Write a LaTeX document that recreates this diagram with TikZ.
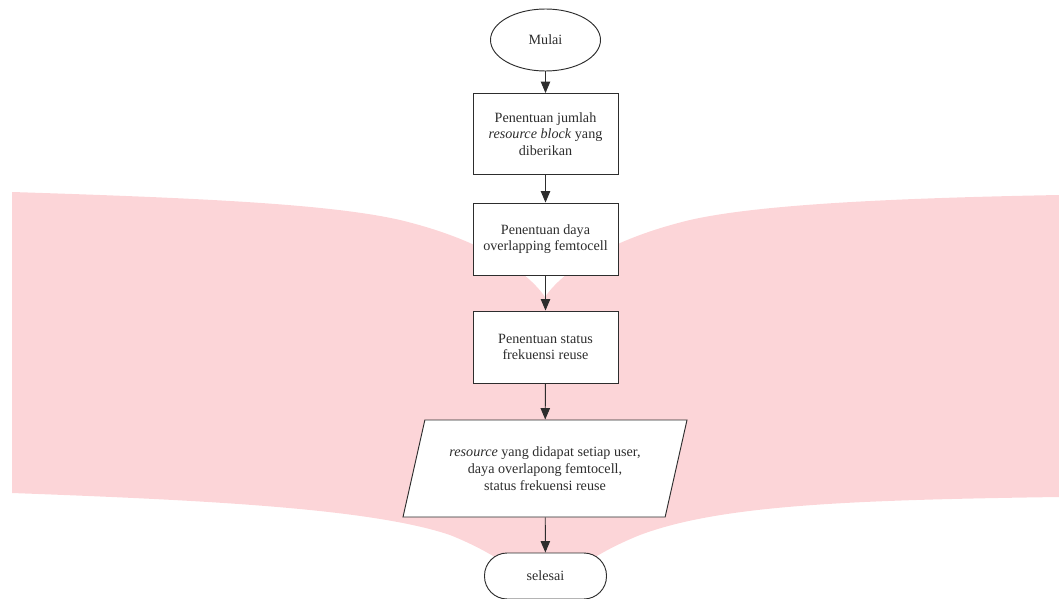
\documentclass[tikz,border=0pt]{standalone}
\usepackage{fontspec}
\setmainfont{Liberation Serif}
\usepackage{tikz}
\usetikzlibrary{arrows.meta,shapes.geometric}
\definecolor{wmpink}{RGB}{252,213,216}
\definecolor{ink}{RGB}{45,45,45}

\begin{document}
\begin{tikzpicture}[x=0.75pt,y=-0.75pt,line width=0.7pt,
	font=\fontsize{10.6}{12.5}\selectfont,
	prosesbox/.style={draw=ink,fill=white,text=ink,align=center,minimum width=108.75pt,minimum height=54pt,inner sep=1pt},
	mulaibox/.style={ellipse,draw=ink,fill=white,text=ink,minimum width=82.5pt,minimum height=46.5pt,inner sep=0pt},
	selesaibox/.style={draw=ink,fill=white,text=ink,rounded corners=17pt,minimum width=91.5pt,minimum height=34.5pt,inner sep=0pt},
	iobox/.style={trapezium,trapezium left angle=63.2,trapezium right angle=116.8,trapezium stretches body,draw=ink,fill=white,text=ink,align=center,minimum width=213pt,minimum height=72.75pt,inner sep=0pt},
	panah/.style={draw=ink,-{Triangle[length=8.5pt,width=7pt]}}]
	\useasboundingbox (0,0) rectangle (1059,599);
	% latar
	\fill[wmpink] (12,192) .. controls (200,198) and (330,204) .. (400,220)
		.. controls (475,238) and (525,268) .. (545,297)
		.. controls (565,268) and (615,238) .. (690,220)
		.. controls (760,204) and (900,198) .. (1059,195)
		-- (1059,497)
		.. controls (850,500) and (720,505) .. (640,535)
		.. controls (590,555) and (560,580) .. (545,599)
		.. controls (530,580) and (500,555) .. (450,535)
		.. controls (370,508) and (200,500) .. (12,493) -- cycle;

	\node[mulaibox] (mulai) at (545.5,40) {Mulai};
	\node[prosesbox,minimum height=60.75pt] (rb) at (545.5,134) {Penentuan jumlah\\\textit{resource block} yang\\diberikan};
	\node[prosesbox] (daya) at (545.5,239) {Penentuan daya\\overlapping femtocell};
	\node[prosesbox] (reuse) at (545.5,347) {Penentuan status\\frekuensi reuse};
	\node[iobox] (hasil) at (545,468.5) {\textit{resource} yang didapat setiap user,\\daya overlapong femtocell,\\status frekuensi reuse};
	\node[selesaibox] (selesai) at (545.5,576) {selesai};

	\draw[panah] (mulai) -- (rb);
	\draw[panah] (rb) -- (daya);
	\draw[panah] (daya) -- (reuse);
	\draw[panah] (reuse) -- (hasil);
	\draw[panah] (hasil) -- (selesai);
\end{tikzpicture}
\end{document}
